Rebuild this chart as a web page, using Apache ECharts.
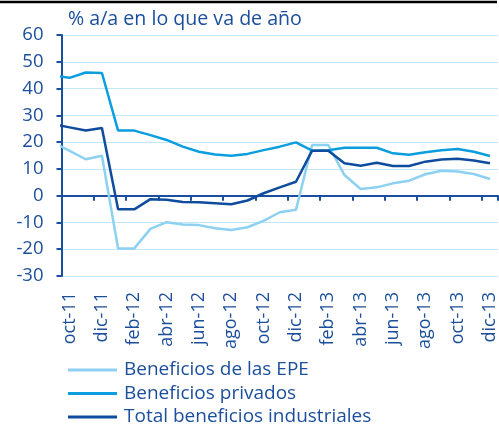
<!DOCTYPE html>
<html>
<head>
<meta charset="utf-8">
<script src="https://cdn.jsdelivr.net/npm/echarts@6/dist/echarts.min.js"></script>
<style>html,body{margin:0;padding:0;background:#fff}#c{width:499px;height:431px}</style>
</head>
<body>
<div id="c"></div>
<script>
// Monthly categories oct-11 .. dic-13
const months = ['oct-11','nov-11','dic-11','ene-12','feb-12','mar-12','abr-12','may-12','jun-12','jul-12','ago-12','sep-12',
  'oct-12','nov-12','dic-12','ene-13','feb-13','mar-13','abr-13','may-13','jun-13','jul-13','ago-13','sep-13','oct-13','nov-13','dic-13'];
// value of the month before the first category (sep-11), only its half segment is visible at the axis
const priorEPE = 19.9, priorPriv = 44.8, priorTotal = 26.7;
const epe = [16.7,13.6,14.9,-19.7,-19.7,-12.4,-9.9,-10.8,-11.0,-12.2,-12.8,-11.8,-9.4,-6.2,-5.3,18.9,18.9,7.7,2.5,3.1,4.6,5.6,8.0,9.3,9.0,8.1,6.2];
const privados = [44.0,46.0,45.8,24.3,24.3,22.6,20.8,18.3,16.4,15.4,14.9,15.6,17.0,18.3,19.9,16.8,17.0,17.9,17.9,17.9,15.8,15.3,16.2,17.0,17.4,16.4,14.8];
const total = [25.5,24.3,25.3,-5.1,-5.1,-1.3,-1.5,-2.4,-2.5,-2.8,-3.2,-1.8,0.9,3.1,5.2,16.8,16.8,12.1,11.2,12.3,11.1,11.1,12.7,13.5,13.8,13.1,12.1];
const yTicks = {min: -30, max: 60, interval: 10};
const names = ['Beneficios de las EPE','Beneficios privados','Total beneficios industriales'];
const colors = ['#8DD1F2','#0B9EDF','#0F4C9E'];
const textColor = '#1B4E9B';
const font = 'Open Sans';

function pts(prior, arr){ const r=[[-1, prior]]; arr.forEach((v,i)=>r.push([i,v])); return r; }

const chart = echarts.init(document.getElementById('c'), null, {renderer:'canvas'});
chart.setOption({
  animation:false,
  backgroundColor:'#fff',
  textStyle:{fontFamily:font},
  title:{text:'% a/a en lo que va de año', left:68, top:9, padding:0,
    textStyle:{fontFamily:font,fontSize:19.6,fontWeight:'normal',color:textColor}},
  grid:{left:61.5, right:0.5, top:35, bottom:155, containLabel:false},
  legend:{orient:'vertical', left:68, top:359.5, padding:0, itemWidth:49, itemHeight:3, itemGap:2.5, icon:'rect',
    data:names, textStyle:{fontFamily:font,fontSize:19,color:textColor,lineHeight:21,padding:[0,0,0,2]}},
  xAxis:[
    {type:'category', data:months, boundaryGap:true, position:'bottom',
      axisLine:{show:false,onZero:false}, axisTick:{show:false},
      axisLabel:{interval:1, rotate:90, margin:16, fontFamily:font, fontSize:18, color:textColor},
      splitLine:{show:false}},
    {type:'category', data:months, boundaryGap:true, position:'bottom',
      axisLine:{show:true,onZero:true,lineStyle:{color:'#1A4FA0',width:2}},
      axisTick:{show:true,interval:1,length:5,lineStyle:{color:'#1A4FA0',width:2}},
      axisLabel:{show:false}, splitLine:{show:false}},
    {type:'value', min:-0.5, max:months.length-0.5, show:false, position:'top',
      axisLine:{onZero:false}, splitLine:{show:false}}
  ],
  yAxis:{type:'value', min:yTicks.min, max:yTicks.max, interval:yTicks.interval,
    axisLine:{show:true,onZero:false,lineStyle:{color:'#1A4FA0',width:2}},
    axisTick:{show:true,length:5,lineStyle:{color:'#1A4FA0',width:2}},
    axisLabel:{margin:18, fontFamily:font, fontSize:18.5, color:textColor},
    splitLine:{show:true,lineStyle:{color:'#C3E7F8',width:1}}},
  series:[
    {name:names[0], type:'line', xAxisIndex:2, data:pts(priorEPE,epe), showSymbol:false, symbol:'none', clip:true,
      lineStyle:{color:colors[0],width:2.5}, itemStyle:{color:colors[0]}},
    {name:names[1], type:'line', xAxisIndex:2, data:pts(priorPriv,privados), showSymbol:false, symbol:'none', clip:true,
      lineStyle:{color:colors[1],width:2.5}, itemStyle:{color:colors[1]}},
    {name:names[2], type:'line', xAxisIndex:2, data:pts(priorTotal,total), showSymbol:false, symbol:'none', clip:true,
      lineStyle:{color:colors[2],width:2.5}, itemStyle:{color:colors[2]}}
  ],
  graphic:[{type:'line', shape:{x1:0,y1:2,x2:497,y2:2}, style:{stroke:'#000',lineWidth:2.5}}]
});
</script>
</body>
</html>
